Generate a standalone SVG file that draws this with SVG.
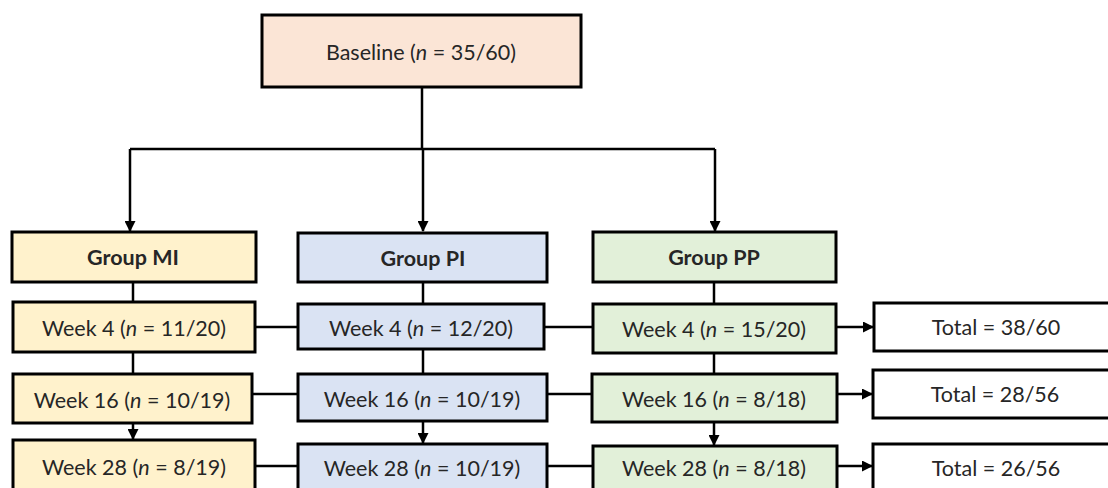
<svg xmlns="http://www.w3.org/2000/svg" width="1108" height="488" viewBox="0 0 1108 488">
<style>
.box{stroke:#000;stroke-width:3}
.base{fill:#fbe5d6}
.mi{fill:#fff2cc}
.pi{fill:#dae3f3}
.pp{fill:#e2f0d9}
.tot{fill:#fff}
.t{font-family:Lato,"Liberation Sans",sans-serif;font-size:21.5px;fill:#262626;text-anchor:middle;dominant-baseline:central}
.b{font-weight:bold;font-size:21.5px}
.ln{stroke:#000;stroke-width:2.5;fill:none}
</style>
<defs>
<marker id="ah" markerWidth="11" markerHeight="11" refX="10" refY="5.5" orient="auto" markerUnits="userSpaceOnUse">
<path d="M0,0 L11,5.5 L0,11 Z" fill="#000"/>
</marker>
</defs>
<g id="connectors">
<path class="ln" d="M422,87 V148"/>
<path class="ln" d="M130,149 H715"/>
<path class="ln" d="M130,149 V231" marker-end="url(#ah)"/>
<path class="ln" d="M423,148 V231" marker-end="url(#ah)"/>
<path class="ln" d="M715,149 V231" marker-end="url(#ah)"/>
<path class="ln" d="M133,282 V302"/>
<path class="ln" d="M133,352 V374"/>
<path class="ln" d="M133,423 V439" marker-end="url(#ah)"/>
<path class="ln" d="M423,282 V304"/>
<path class="ln" d="M423,349 V374"/>
<path class="ln" d="M423,421 V443" marker-end="url(#ah)"/>
<path class="ln" d="M714,282 V304"/>
<path class="ln" d="M714,353 V374"/>
<path class="ln" d="M714,422 V445" marker-end="url(#ah)"/>
<path class="ln" d="M255,327 H298"/>
<path class="ln" d="M252,394 H298"/>
<path class="ln" d="M255,466 H298"/>
<path class="ln" d="M544,327 H593"/>
<path class="ln" d="M547,394 H592"/>
<path class="ln" d="M547,466 H593"/>
<path class="ln" d="M836,327 H873" marker-end="url(#ah)"/>
<path class="ln" d="M837,394 H872" marker-end="url(#ah)"/>
<path class="ln" d="M837,466 H872" marker-end="url(#ah)"/>
</g>
<g id="baseline"><rect class="box base" x="262" y="15" width="319" height="72"/><text class="t" x="421" y="52">Baseline (<tspan font-style="italic">n</tspan> = 35/60)</text></g>
<g id="groupMI"><rect class="box mi" x="12" y="232" width="244" height="50"/><text class="t b" x="133" y="257">Group MI</text></g>
<g id="groupPI"><rect class="box pi" x="298" y="233" width="249" height="49"/><text class="t b" x="423" y="258">Group PI</text></g>
<g id="groupPP"><rect class="box pp" x="593" y="232" width="243" height="50"/><text class="t b" x="714" y="257">Group PP</text></g>
<g id="mi4"><rect class="box mi" x="13" y="302" width="242" height="50"/><text class="t" x="134" y="328">Week 4 (<tspan font-style="italic">n</tspan> = 11/20)</text></g>
<g id="mi16"><rect class="box mi" x="13" y="374" width="239" height="49"/><text class="t" x="132" y="400">Week 16 (<tspan font-style="italic">n</tspan> = 10/19)</text></g>
<g id="mi28"><rect class="box mi" x="13" y="440" width="242" height="60"/><text class="t" x="134" y="467">Week 28 (<tspan font-style="italic">n</tspan> = 8/19)</text></g>
<g id="pi4"><rect class="box pi" x="298" y="304" width="246" height="45"/><text class="t" x="421" y="328">Week 4 (<tspan font-style="italic">n</tspan> = 12/20)</text></g>
<g id="pi16"><rect class="box pi" x="298" y="374" width="249" height="47"/><text class="t" x="422" y="399">Week 16 (<tspan font-style="italic">n</tspan> = 10/19)</text></g>
<g id="pi28"><rect class="box pi" x="298" y="444" width="249" height="60"/><text class="t" x="422" y="468">Week 28 (<tspan font-style="italic">n</tspan> = 10/19)</text></g>
<g id="pp4"><rect class="box pp" x="593" y="304" width="243" height="49"/><text class="t" x="714" y="329">Week 4 (<tspan font-style="italic">n</tspan> = 15/20)</text></g>
<g id="pp16"><rect class="box pp" x="592" y="374" width="245" height="48"/><text class="t" x="714" y="399">Week 16 (<tspan font-style="italic">n</tspan> = 8/18)</text></g>
<g id="pp28"><rect class="box pp" x="593" y="446" width="244" height="60"/><text class="t" x="714" y="468">Week 28 (<tspan font-style="italic">n</tspan> = 8/18)</text></g>
<g id="total1"><rect class="box tot" x="874" y="303" width="240" height="48"/><text class="t" x="996" y="327">Total = 38/60</text></g>
<g id="total2"><rect class="box tot" x="873" y="370" width="241" height="48"/><text class="t" x="995" y="394">Total = 28/56</text></g>
<g id="total3"><rect class="box tot" x="873" y="444" width="241" height="60"/><text class="t" x="996" y="468">Total = 26/56</text></g>
</svg>
